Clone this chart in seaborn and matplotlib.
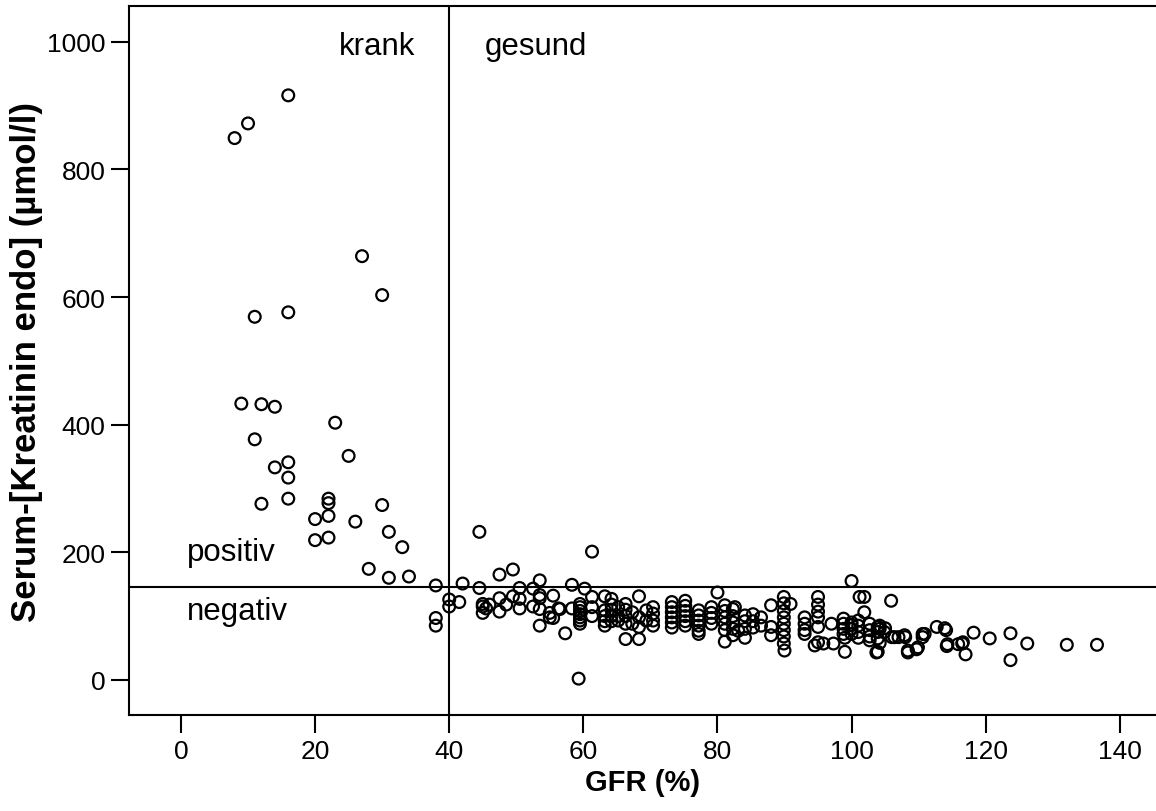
import matplotlib
matplotlib.use("Agg")
import matplotlib.pyplot as plt
import seaborn as sns
import pandas as pd

# GFR (%) and serum creatinine (µmol/l) per patient
gfr = [
    8, 10, 16, 27, 30, 11, 16, 9, 12, 14, 23, 11, 25, 14, 16, 16, 12, 16, 22, 22,
    30, 20, 22, 26, 20, 22, 31, 33, 28, 31, 34, 38, 38, 38, 40, 40,
    42, 44.5, 44.5, 47.5, 49.5, 41.5, 45, 45, 45.5, 45, 46, 47.5, 47.5, 48.5, 49.5,
    50.5, 50.5, 50.5, 52.5, 52.5, 53.5, 53.5, 53.5, 53.5, 53.5, 55.5, 55, 55.5, 56.5,
    55, 56.3, 58.3, 58.3, 57.3, 59.3, 60.2, 59.5, 59.5, 59.5, 59.5, 59.5, 59.5, 59.5,
    61.3, 61.3, 61.3, 61.3, 63.2, 63.2, 63.2, 63.2, 63.2, 64.2, 64.2, 64.2, 64.2, 64.2,
    65.2, 65.2, 65.2, 66.3, 66.3, 66.3, 66.3, 66.3, 67.3, 67.3, 68.3, 68.3, 68.3, 68.3,
    69.4, 69.4,
    70.4, 70.4, 70.4, 70.4, 73.2, 73.2, 73.2, 73.2, 73.2, 73.2, 75.2, 75.2, 75.2, 75.2,
    75.2, 75.2, 77.2, 77.2, 77.2, 77.2, 77.2, 77.2, 79.1, 79.1, 79.1, 79.1, 80, 81.1,
    81.1, 81.1, 81.1, 81.1, 81.1, 82.6, 83.1, 84.1, 84.1, 84.1, 84.1,
    82.3, 82.3, 82.3, 82.3, 82.3,
    85.3, 85.3, 85.3, 86.5, 86.5, 88, 88, 88, 89.9, 89.9, 89.9, 89.9, 89.9, 89.9, 89.9,
    89.9, 90.9, 93, 93, 93, 93, 95, 95, 95, 95, 95, 95, 95.8, 97, 97.3, 98.8, 98.8,
    98.8, 98.8, 100, 101.2, 99, 99, 90, 94.5, 100, 100, 100, 100,
    101.9, 105.9, 101.9, 101, 101, 101, 101, 102.7, 102.7, 102.7, 102.7, 103.9, 103.9,
    103.9, 103.9, 104.9, 106.4, 107.9, 108.4, 109.9, 110.9, 112.7, 113.9, 114.1, 114.3,
    115.9, 116.6, 117, 118.2, 120.6, 123.7, 126.2, 123.7, 132.1, 136.6,
    104.2, 104.2, 104.2, 105, 106, 107, 108, 110.6, 110.6, 114.2, 116.5, 103.7, 108.4,
    109.7,
]
kreatinin = [
    849, 872, 916, 664, 603, 569, 576, 433, 432, 428, 403, 377, 351, 333, 341, 317, 276,
    284, 284, 277, 274, 252, 257, 248, 219, 223, 232, 208, 174, 160, 162, 148, 97, 85,
    126, 115,
    151, 144, 232, 165, 173, 122, 119, 115, 112, 105, 118, 128, 107, 118, 131,
    144, 127, 112, 143, 115, 156, 133, 128, 111, 85, 132, 105, 97, 111,
    98, 112, 149, 112, 73, 2, 143, 119, 114, 108, 103, 98, 93, 88,
    201, 130, 114, 100, 131, 109, 100, 92, 85, 127, 118, 110, 100, 92,
    114, 100, 93, 119, 110, 100, 88, 64, 106, 88, 131, 98, 83, 64,
    109, 93,
    114, 104, 93, 85, 122, 114, 106, 98, 90, 82, 124, 116, 108, 100,
    92, 85, 109, 101, 93, 85, 77, 72, 114, 105, 97, 88, 137, 117,
    108, 98, 88, 78, 60, 114, 77, 101, 92, 80, 66,
    111, 100, 90, 80, 70,
    103, 92, 82, 98, 85, 117, 83, 70, 130, 120, 108, 98, 88, 78, 68,
    57, 119, 98, 88, 78, 72, 130, 118, 107, 98, 83, 59, 57, 88, 57, 96, 88,
    80, 72, 155, 130, 44, 66, 46, 54, 90, 86, 80, 72,
    130, 124, 106, 93, 85, 75, 66, 88, 78, 68, 62, 83, 75,
    65, 44, 75, 67, 70, 46, 51, 72, 83, 81, 78, 56,
    56, 59, 40, 74, 65, 73, 57, 31, 55, 55,
    85, 80, 58, 81, 67, 67, 67, 72, 67, 53, 57, 43, 43,
    48,
]

# cut-offs separating diseased/healthy and positive/negative
gfr_cutoff = 40
kreatinin_cutoff = 145

x_ticks = [0, 20, 40, 60, 80, 100, 120, 140]
y_ticks = [0, 200, 400, 600, 800, 1000]

df = pd.DataFrame({"GFR": gfr, "Kreatinin": kreatinin})

sns.set_style("ticks")
plt.rcParams["font.family"] = ["Liberation Sans", "DejaVu Sans"]
plt.rcParams["text.color"] = "black"
plt.rcParams["axes.labelcolor"] = "black"
plt.rcParams["xtick.color"] = "black"
plt.rcParams["ytick.color"] = "black"

fig = plt.figure(figsize=(11.56, 8.12), dpi=100)
ax = fig.add_axes([129 / 1156, 1 - 716 / 812, 1 - 129 / 1156, (716 - 7) / 812])

sns.scatterplot(data=df, x="GFR", y="Kreatinin", ax=ax, marker="o", s=72,
                color="black", linewidth=1.6, zorder=3)
pts = ax.collections[-1]
pts.set_facecolor("none")
pts.set_edgecolor("black")

ax.axvline(gfr_cutoff, color="black", linewidth=1.5, zorder=2)
ax.axhline(kreatinin_cutoff, color="black", linewidth=1.5, zorder=2)

ax.set_xlim(-7.75, 145.4)
ax.set_ylim(-55, 1056)
ax.set_xticks(x_ticks)
ax.set_yticks(y_ticks)

for side in ("left", "bottom", "top"):
    ax.spines[side].set_linewidth(1.5)
    ax.spines[side].set_color("black")
ax.spines["right"].set_visible(False)

ax.tick_params(axis="both", direction="out", length=13, width=1.5,
               labelsize=19, colors="black", pad=4)

ax.set_xlabel("GFR (%)", fontsize=21, fontweight="bold", labelpad=4)
ax.set_ylabel("Serum-[Kreatinin endo] (µmol/l)", fontsize=25,
              fontweight="bold", labelpad=3)

ax.text(35, 994, "krank", fontsize=22.5, ha="right", va="center")
ax.text(45.3, 994, "gesund", fontsize=22.5, ha="left", va="center")
ax.text(0.9, 200, "positiv", fontsize=22.5, ha="left", va="center")
ax.text(0.9, 108, "negativ", fontsize=22.5, ha="left", va="center")

fig.savefig("out.png", dpi=100)
